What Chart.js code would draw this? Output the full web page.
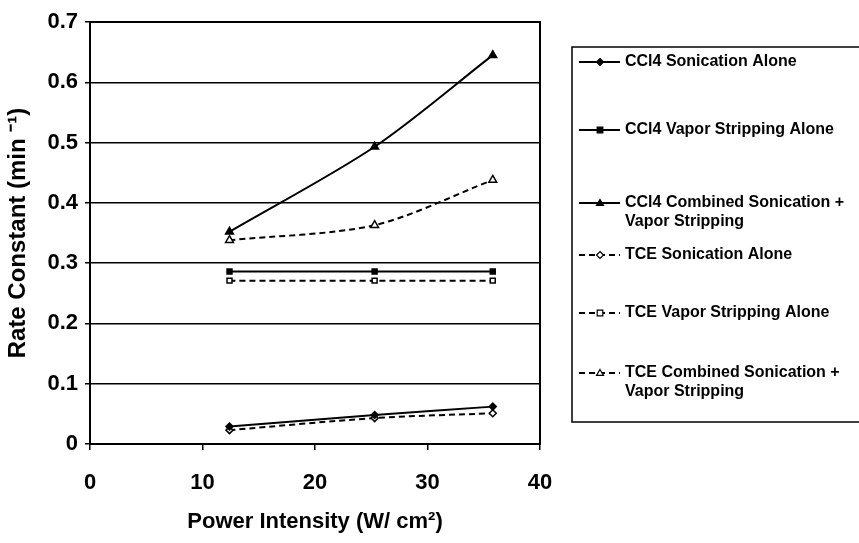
<!DOCTYPE html>
<html>
<head>
<meta charset="utf-8">
<script src="https://cdn.jsdelivr.net/npm/chart.js@4.4.1/dist/chart.umd.min.js"></script>
<style>
  html, body { margin: 0; padding: 0; background: #fff; }
  #wrap { width: 859px; height: 543px; position: relative; }
</style>
</head>
<body>
<div id="wrap"><canvas id="rateChart"></canvas></div>
<script>
// values
const powerIntensity = [12.4, 25.3, 35.8];
const ccl4Sonication = [0.029, 0.048, 0.062];
const ccl4Vapor      = [0.286, 0.286, 0.286];
const ccl4Combined   = [0.352, 0.493, 0.645];
const tceSonication  = [0.023, 0.043, 0.051];
const tceVapor       = [0.271, 0.271, 0.271];
const tceCombined    = [0.338, 0.363, 0.438];

const seriesNames = [
  ['CCl4 Sonication Alone'],
  ['CCl4 Vapor Stripping Alone'],
  ['CCl4 Combined Sonication +', 'Vapor Stripping'],
  ['TCE Sonication Alone'],
  ['TCE Vapor Stripping Alone'],
  ['TCE Combined Sonication +', 'Vapor Stripping']
];
const xTicks = [0, 10, 20, 30, 40];
const yTicks = [0, 0.1, 0.2, 0.3, 0.4, 0.5, 0.6, 0.7];

const FONT = '"Liberation Sans", Arial, sans-serif';

function pts(ys) {
  return ys.map((y, i) => ({ x: powerIntensity[i], y: y }));
}

function makeSet(name, ys, style, hollow, dashed) {
  return {
    label: name.join(' '),
    names: name,
    data: pts(ys),
    borderColor: '#000',
    borderWidth: 2,
    borderDash: dashed ? [6, 4] : [],
    tension: 0.3,
    pointStyle: style,
    pointRadius: style === 'triangle' ? 4.5 : 3.5,
    pointBorderColor: '#000',
    pointBackgroundColor: hollow ? '#fff' : '#000',
    pointBorderWidth: 1.5,
    fill: false
  };
}

// draw a marker by hand for the legend
function marker(ctx, style, x, y, r, hollow) {
  ctx.save();
  ctx.setLineDash([]);
  ctx.beginPath();
  if (style === 'rectRot') {
    ctx.moveTo(x, y - r); ctx.lineTo(x + r, y); ctx.lineTo(x, y + r); ctx.lineTo(x - r, y);
  } else if (style === 'rect') {
    ctx.rect(x - r * 0.8, y - r * 0.8, r * 1.6, r * 1.6);
  } else {
    ctx.moveTo(x, y - r); ctx.lineTo(x + r, y + r * 0.7); ctx.lineTo(x - r, y + r * 0.7);
  }
  ctx.closePath();
  ctx.fillStyle = hollow ? '#fff' : '#000';
  ctx.fill();
  ctx.lineWidth = 1.2;
  ctx.strokeStyle = '#000';
  ctx.stroke();
  ctx.restore();
}

const boxAndLegend = {
  id: 'boxAndLegend',
  afterDraw(chart) {
    const ctx = chart.ctx;
    const a = chart.chartArea;
    ctx.save();
    ctx.strokeStyle = '#000';
    ctx.lineWidth = 2;
    ctx.strokeRect(a.left, a.top, a.right - a.left, a.bottom - a.top);

    // legend box
    ctx.lineWidth = 1.5;
    ctx.strokeRect(572, 47, 300, 375);
    const rows = [62, 130, 203, 255, 313, 373];
    ctx.font = 'bold 16px ' + FONT;
    ctx.fillStyle = '#000';
    ctx.textBaseline = 'middle';
    chart.data.datasets.forEach((ds, i) => {
      const y = rows[i];
      ctx.beginPath();
      ctx.setLineDash(ds.borderDash);
      ctx.lineWidth = 2;
      ctx.moveTo(579, y);
      ctx.lineTo(620, y);
      ctx.stroke();
      marker(ctx, ds.pointStyle, 600, y, 3.5, ds.pointBackgroundColor === '#fff');
      ds.names.forEach((t, k) => ctx.fillText(t, 625, y + k * 19));
    });
    ctx.restore();
  }
};

new Chart(document.getElementById('rateChart'), {
  type: 'line',
  data: {
    datasets: [
      makeSet(seriesNames[0], ccl4Sonication, 'rectRot', false, false),
      makeSet(seriesNames[1], ccl4Vapor, 'rect', false, false),
      makeSet(seriesNames[2], ccl4Combined, 'triangle', false, false),
      makeSet(seriesNames[3], tceSonication, 'rectRot', true, true),
      makeSet(seriesNames[4], tceVapor, 'rect', true, true),
      makeSet(seriesNames[5], tceCombined, 'triangle', true, true)
    ]
  },
  options: {
    responsive: true,
    maintainAspectRatio: false,
    animation: false,
    layout: { padding: { top: 22, right: 319, left: 0, bottom: 0 } },
    plugins: { legend: { display: false }, tooltip: { enabled: false } },
    scales: {
      x: {
        type: 'linear',
        min: 0, max: 40,
        afterFit: s => { s.height = 99; },
        afterBuildTicks: s => { s.ticks = xTicks.map(v => ({ value: v })); },
        grid: { drawOnChartArea: false, color: '#000', lineWidth: 1.5, tickLength: 6 },
        border: { color: '#000', width: 2 },
        ticks: { color: '#000', padding: 20, font: { family: FONT, size: 22, weight: 'bold' } },
        title: {
          display: true,
          text: 'Power Intensity (W/ cm²)',
          color: '#000',
          padding: { top: 0, bottom: 8 },
          font: { family: FONT, size: 22, weight: 'bold' }
        }
      },
      y: {
        min: 0, max: 0.7,
        afterFit: s => { s.width = 90; },
        afterBuildTicks: s => { s.ticks = yTicks.map(v => ({ value: v })); },
        grid: { color: '#000', lineWidth: 1.5, tickLength: 5 },
        border: { color: '#000', width: 2 },
        ticks: { color: '#000', padding: 7, font: { family: FONT, size: 22, weight: 'bold' } },
        title: {
          display: true,
          text: 'Rate Constant (min ⁻¹)',
          color: '#000',
          padding: { top: 4, bottom: 0 },
          font: { family: FONT, size: 24, weight: 'bold' }
        }
      }
    }
  },
  plugins: [boxAndLegend]
});
</script>
</body>
</html>
